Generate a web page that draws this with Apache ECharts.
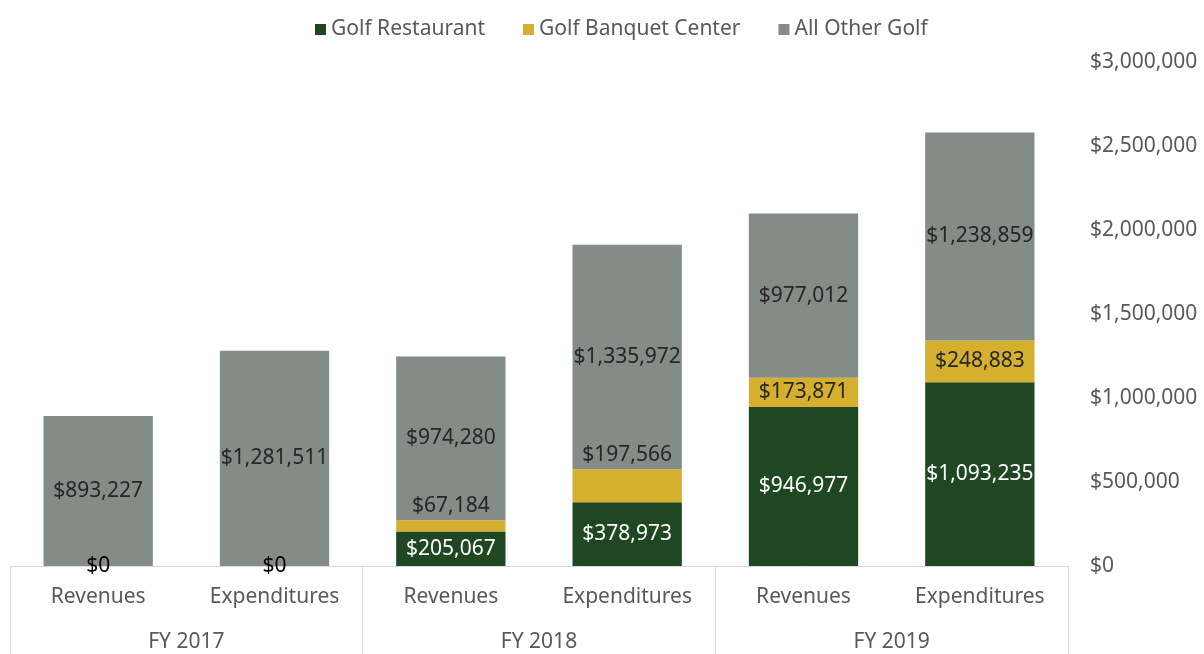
<!DOCTYPE html>
<html>
<head>
<meta charset="utf-8">
<script src="https://cdn.jsdelivr.net/npm/echarts@6/dist/echarts.min.js"></script>
<style>
  html, body { margin: 0; padding: 0; background: #fff; }
  #chart { width: 1204px; height: 654px; }
</style>
</head>
<body>
<div id="chart"></div>
<script>
// categories (two levels)
const categories = ['Revenues', 'Expenditures', 'Revenues', 'Expenditures', 'Revenues', 'Expenditures'];
const fiscalYears = ['FY 2017', 'FY 2018', 'FY 2019'];

// series values
const golfRestaurant = [0, 0, 205067, 378973, 946977, 1093235];
const golfBanquet = [0, 0, 67184, 197566, 173871, 248883];
const allOtherGolf = [893227, 1281511, 974280, 1335972, 977012, 1238859];

const FONT = '"Noto Sans", sans-serif';
const FS = 21;
const money = v => '$' + String(Math.round(v)).replace(/\B(?=(\d{3})+(?!\d))/g, ',');

const chart = echarts.init(document.getElementById('chart'));

// restaurant labels: white inside, black when the bar is empty
const restaurantData = golfRestaurant.map(v => ({
    value: v,
    label: {color: v === 0 ? '#000' : '#fff'}
}));

// banquet labels: hidden for zero, pushed above the segment in FY 2018 bars
const banquetData = golfBanquet.map((v, i) => {
    if (v === 0) return {value: v, label: {show: false}};
    if (golfRestaurant[i] < 500000) return {value: v, label: {position: 'top', distance: 4, color: '#262626'}};
    return {value: v, label: {position: 'inside', color: '#262626'}};
});

const labelBase = {
    show: true,
    fontFamily: FONT,
    fontSize: FS,
    formatter: p => money(p.value)
};

chart.setOption({
    animation: false,
    textStyle: {fontFamily: FONT},
    legend: {
        top: 14,
        left: 310,
        itemWidth: 11,
        itemHeight: 11,
        itemGap: 38,
        icon: 'rect',
        textStyle: {color: '#595959', fontSize: FS, fontFamily: FONT},
        data: ['Golf Restaurant', 'Golf Banquet Center', 'All Other Golf']
    },
    grid: {left: 10, right: 136, top: 62, bottom: 88},
    xAxis: [
        {
            type: 'category',
            data: categories,
            axisLine: {show: false},
            axisTick: {show: false},
            axisLabel: {color: '#595959', fontSize: FS, fontFamily: FONT, margin: 21}
        },
        {
            type: 'category',
            position: 'bottom',
            data: fiscalYears,
            axisLine: {show: true, lineStyle: {color: '#d9d9d9', width: 1}},
            axisTick: {show: true, length: 92, lineStyle: {color: '#d9d9d9', width: 1}},
            axisLabel: {color: '#595959', fontSize: FS, fontFamily: FONT, margin: 66}
        }
    ],
    yAxis: {
        type: 'value',
        position: 'right',
        min: 0,
        max: 3000000,
        interval: 500000,
        splitLine: {show: false},
        axisLine: {show: false},
        axisTick: {show: false},
        axisLabel: {
            color: '#595959',
            fontSize: FS,
            fontFamily: FONT,
            margin: 22,
            formatter: v => money(v)
        }
    },
    series: [
        {
            name: 'Golf Restaurant',
            type: 'bar',
            stack: 'total',
            barWidth: '62%',
            itemStyle: {color: '#1f4722'},
            label: Object.assign({}, labelBase, {position: 'inside'}),
            data: restaurantData
        },
        {
            name: 'Golf Banquet Center',
            type: 'bar',
            stack: 'total',
            itemStyle: {color: '#d5b02f'},
            label: Object.assign({}, labelBase),
            data: banquetData
        },
        {
            name: 'All Other Golf',
            type: 'bar',
            stack: 'total',
            itemStyle: {color: '#838c87'},
            label: Object.assign({}, labelBase, {position: 'inside', color: '#262626'}),
            data: allOtherGolf
        }
    ]
});
</script>
</body>
</html>
